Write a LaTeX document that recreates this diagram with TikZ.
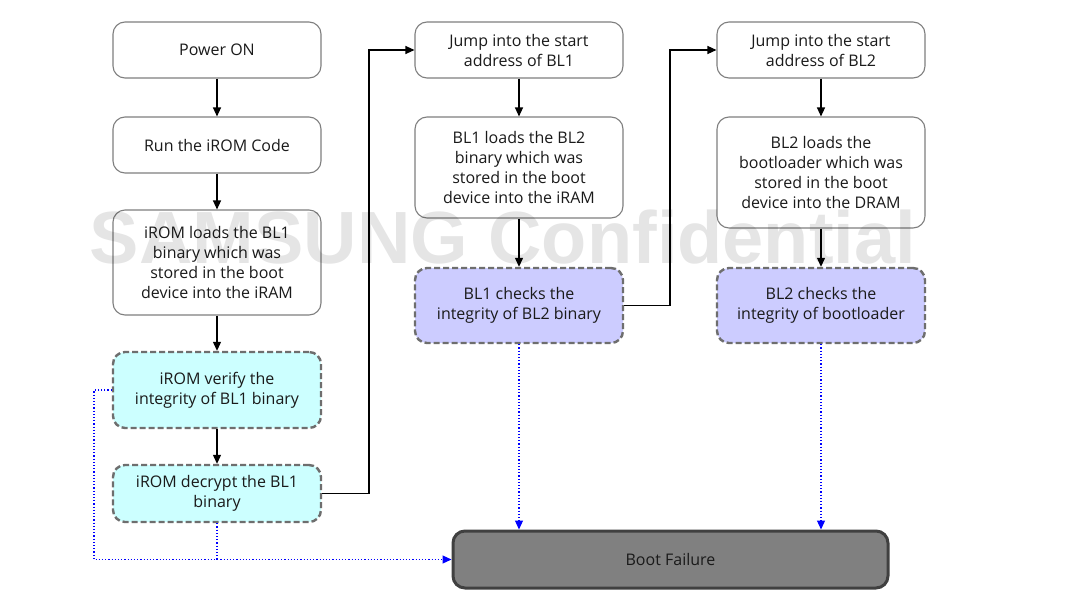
\documentclass[tikz,border=0pt]{standalone}
\usepackage{fontspec}
\setmainfont{Open Sans}
\newfontfamily\wmfont{Liberation Sans}
\usetikzlibrary{arrows.meta}
\definecolor{boxline}{HTML}{7F7F7F}
\definecolor{dashline}{HTML}{6E6E6E}
\definecolor{cyanfill}{HTML}{CCFFFF}
\definecolor{lavfill}{HTML}{CCCCFF}
\definecolor{failfill}{HTML}{808080}
\definecolor{failline}{HTML}{404040}
\definecolor{txt}{HTML}{1A1A1A}
\begin{document}
\begin{tikzpicture}[x=1pt,y=-1pt,
  every node/.style={font=\fontsize{16}{20}\selectfont, text=txt, align=center, inner sep=0pt},
  plainbox/.style={draw=boxline, line width=1.1pt, fill=white, rounded corners=12pt, minimum width=208pt},
  cyanbox/.style={draw=dashline, line width=2.4pt, dash pattern=on 6pt off 3pt, fill=cyanfill, rounded corners=12pt, minimum width=208pt},
  lavbox/.style={draw=dashline, line width=2.4pt, dash pattern=on 6pt off 3pt, fill=lavfill, rounded corners=12pt, minimum width=208pt},
  failbox/.style={draw=failline, line width=3pt, fill=failfill, rounded corners=12pt, minimum width=435pt, minimum height=57pt},
  flow/.style={draw=black, line width=1.2pt, -{Triangle[length=9pt,width=8pt]}},
  fail/.style={draw=blue, line width=1.2pt, dotted, -{Triangle[length=9pt,width=8pt]}},
  failline2/.style={draw=blue, line width=1.2pt, dotted}
]
\useasboundingbox (0,0) rectangle (1070,613);
\fill[white] (0,0) rectangle (1070,613);

% left column
\node[plainbox, minimum height=56pt] (pwr) at (217,50) {Power ON};
\node[plainbox, minimum height=56pt] (run) at (217,145) {Run the iROM Code};
\node[plainbox, minimum height=105pt] (ld1) at (217,262.5) {iROM loads the BL1\\binary which was\\stored in the boot\\device into the iRAM};
\node[cyanbox, minimum height=76pt] (ver) at (217,390) {iROM verify the\\integrity of BL1 binary};
\node[cyanbox, minimum height=57pt] (dec) at (217,493.5) {iROM decrypt the BL1\\binary};

% middle column
\node[plainbox, minimum height=56pt] (j1) at (519,50) {Jump into the start\\address of BL1};
\node[plainbox, minimum height=101pt] (ld2) at (519,167.5) {BL1 loads the BL2\\binary which was\\stored in the boot\\device into the iRAM};
\node[lavbox, minimum height=75pt] (ck1) at (519,305.5) {BL1 checks the\\integrity of BL2 binary};

% right column
\node[plainbox, minimum height=56pt] (j2) at (821,50) {Jump into the start\\address of BL2};
\node[plainbox, minimum height=111pt] (ld3) at (821,172.5) {BL2 loads the\\bootloader which was\\stored in the boot\\device into the DRAM};
\node[lavbox, minimum height=75pt] (ck2) at (821,305.5) {BL2 checks the\\integrity of bootloader};

% failure
\node[failbox] (bf) at (670.5,559.5) {Boot Failure};

% coordinates
\coordinate (c1a) at (369,493.5);
\coordinate (c1b) at (369,50);
\coordinate (c2a) at (670,305.5);
\coordinate (c2b) at (670,50);
\coordinate (v1) at (94,390);
\coordinate (v2) at (94,559.5);
\coordinate (d1) at (217,559.5);

% flow arrows
\draw[flow] (pwr) -- (run);
\draw[flow] (run) -- (ld1);
\draw[flow] (ld1) -- (ver);
\draw[flow] (ver) -- (dec);
\draw[flow] (dec.east) -- (c1a) -- (c1b) -- (j1.west);
\draw[flow] (j1) -- (ld2);
\draw[flow] (ld2) -- (ck1);
\draw[flow] (ck1.east) -- (c2a) -- (c2b) -- (j2.west);
\draw[flow] (j2) -- (ld3);
\draw[flow] (ld3) -- (ck2);

% failure paths
\draw[fail] (ck1.south) -- (ck1.south |- bf.north);
\draw[fail] (ck2.south) -- (ck2.south |- bf.north);
\draw[fail] (ver.west) -- (v1) -- (v2) -- (bf.west);
\draw[failline2] (dec.south) -- (d1);

% watermark
\node[font=\wmfont\bfseries\fontsize{74}{76}\selectfont, text=black, text opacity=0.1, anchor=base] (wm) at (503,263) {SAMSUNG Confidential};
\end{tikzpicture}
\end{document}
